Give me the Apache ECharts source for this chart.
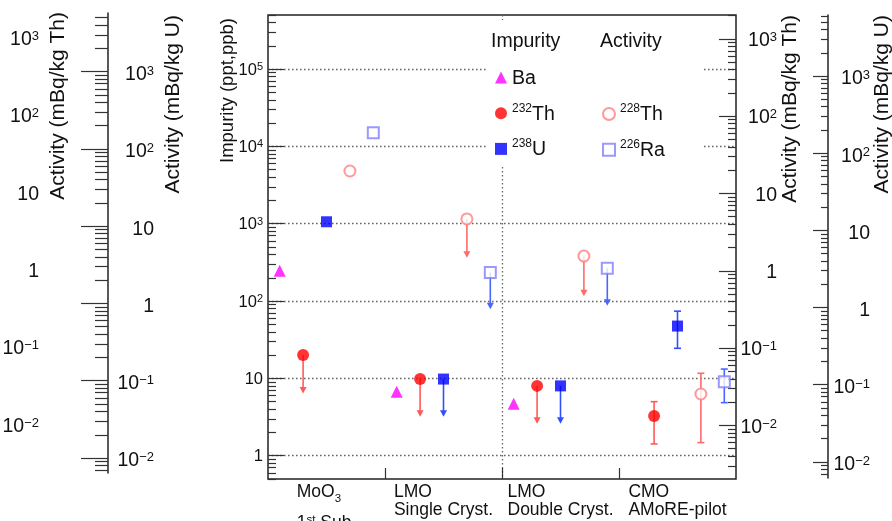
<!DOCTYPE html>
<html>
<head>
<meta charset="utf-8">
<script src="https://cdn.jsdelivr.net/npm/echarts@6/dist/echarts.min.js"></script>
<style>
html, body { margin: 0; padding: 0; background: #fff; }
#chart { width: 892px; height: 521px; }
</style>
</head>
<body>
<div id="chart"></div>
<script>
// ---- data -------------------------------------------------------------
// Sample categories ("_x" = subscript, "^x" = superscript)
const categories = ['MoO_3\n1^st Sub.', 'LMO\nSingle Cryst.', 'LMO\nDouble Cryst.', 'CMO\nAMoRE-pilot'];

// Impurity concentrations (ppt), one entry per category; null = not measured
const baImpurity     = [247, 6.7, 4.7, null];
const th232Impurity  = [20, 9.8, 8.0, 3.26];
const th232Low       = [6.4, 3.2, 2.6, 1.42];   // arrow tip (limit) or lower error
const th232High      = [null, null, null, 5.0]; // upper error (measured values only)
const u238Impurity   = [1060, 9.8, 8.0, 47.5];
const u238Low        = [null, 3.2, 2.6, 24.5];
const u238High       = [null, null, null, 74];

// Activities (mBq/kg)
const th228Activity  = [19.5, 4.68, 1.55, 0.0255];
const th228Low       = [null, 1.47, 0.47, 0.006];
const th228High      = [null, null, null, 0.0473];
const ra226Activity  = [186, 2.88, 3.28, 0.112];
const ra226Low       = [null, 0.967, 1.07, 0.06];
const ra226High      = [null, null, null, 0.163];

// ---- scales -----------------------------------------------------------
const TH_PER_PPT = 4.06e-3;   // mBq/kg per ppt of 232Th
const U_PER_PPT  = 12.35e-3;  // mBq/kg per ppt of 238U
const IMP  = { min: 0.5, max: 5e5 };
const THA  = { min: IMP.min * TH_PER_PPT, max: IMP.max * TH_PER_PPT };
const UA   = { min: IMP.min * U_PER_PPT,  max: IMP.max * U_PER_PPT };
const UA_L = { min: 0.0064, max: 5740 };

// horizontal slot of each species inside a category
const SLOT = { ba: 0.1, th232: 0.3, u238: 0.5, th228: 0.7, ra226: 0.9 };

const FONT = '"Liberation Sans", Arial, Helvetica, sans-serif';
const INK = '#111';

function decades(r) {
  const out = [];
  for (let k = Math.ceil(Math.log10(r.min) - 1e-9); Math.pow(10, k) <= r.max * (1 + 1e-9); k++) out.push(Math.pow(10, k));
  return out;
}
function minors(r) {
  const out = [];
  for (let k = Math.floor(Math.log10(r.min)); k <= Math.ceil(Math.log10(r.max)); k++) {
    for (let m = 2; m <= 9; m++) {
      const v = m * Math.pow(10, k);
      if (v >= r.min && v <= r.max) out.push(v);
    }
  }
  return out;
}
function powLabel(v) {
  const e = Math.round(Math.log10(v));
  if (e === 0) return '{b|1}';
  if (e === 1) return '{b|10}';
  return '{b|10}{s|' + (e < 0 ? '\u2212' + (-e) : e) + '}';
}
function powRich(size) {
  return {
    b: { fontSize: size, fontFamily: FONT, color: INK, lineHeight: Math.round(size * 1.05), verticalAlign: 'bottom' },
    s: { fontSize: Math.round(size * 0.66), fontFamily: FONT, color: INK, lineHeight: Math.round(size * 0.7), verticalAlign: 'top' }
  };
}
function richCategory(label) {
  return label.split('\n').map(line => {
    const hasSub = line.indexOf('_') >= 0;
    const body = line.replace(/_(\w+)|\^(\w+)|([^_^]+)/g, (m, sub, sup, txt) =>
      sub ? '{d|' + sub + '}' : sup ? '{u|' + sup + '}' : '{t|' + txt + '}');
    // a subscript makes its line taller
    return hasSub ? body + '{h| }' : body;
  }).join('\n');
}

const tickStyle = { color: '#333', width: 1.2 };
const lineStyle = { color: '#222', width: 1.5 };

function majorAxis(o) {
  return {
    type: 'log', logBase: 10, min: o.range.min, max: o.range.max,
    gridIndex: o.grid, position: o.position, offset: o.offset || 0,
    axisLine: { show: !!o.line, onZero: false, lineStyle: lineStyle },
    axisTick: o.tick ? { show: true, inside: o.inside, length: o.tick, customValues: decades(o.range), lineStyle: tickStyle } : { show: false },
    axisLabel: o.label ? {
      show: true, customValues: decades(o.range), formatter: powLabel, margin: o.margin,
      align: 'right', rich: powRich(o.label), fontFamily: FONT, color: INK,
      padding: [o.drop || 0, 0, 0, 0]
    } : { show: false },
    splitLine: o.split ? { show: true, lineStyle: { type: [1.6, 2.4], color: '#666', width: 1.3 } } : { show: false },
    minorTick: { show: false }
  };
}
function minorAxis(o) {
  return {
    type: 'log', logBase: 10, min: o.range.min, max: o.range.max,
    gridIndex: o.grid, position: o.position,
    axisLine: { show: false, onZero: false },
    axisTick: { show: true, inside: o.inside, length: o.tick, customValues: minors(o.range), lineStyle: tickStyle },
    axisLabel: { show: false },
    splitLine: { show: false }
  };
}

function points(values, off) {
  return values.map((v, i) => v == null ? null : [i + off, v]).filter(Boolean);
}
function whiskers(values, lows, highs, off) {
  const out = [];
  values.forEach((v, i) => {
    if (v == null || lows[i] == null) return;
    out.push([i + off, v, lows[i], highs[i] == null ? NaN : highs[i]]);
  });
  return out;
}
function whiskerRenderer(color) {
  return function (params, api) {
    const x = api.value(0), v = api.value(1), lo = api.value(2), hi = api.value(3);
    const pv = api.coord([x, v]), pl = api.coord([x, lo]);
    const st = { stroke: color, lineWidth: 1.6, fill: null };
    if (isNaN(hi)) {
      return { type: 'group', children: [
        { type: 'line', shape: { x1: pv[0], y1: pv[1], x2: pl[0], y2: pl[1] - 3 }, style: st },
        { type: 'polygon', shape: { points: [[pl[0] - 3.5, pl[1] - 6.5], [pl[0] + 3.5, pl[1] - 6.5], [pl[0], pl[1]]] }, style: { fill: color } }
      ] };
    }
    const ph = api.coord([x, hi]);
    return { type: 'group', children: [
      { type: 'line', shape: { x1: ph[0], y1: ph[1], x2: pl[0], y2: pl[1] }, style: st },
      { type: 'line', shape: { x1: ph[0] - 3.5, y1: ph[1], x2: ph[0] + 3.5, y2: ph[1] }, style: st },
      { type: 'line', shape: { x1: pl[0] - 3.5, y1: pl[1], x2: pl[0] + 3.5, y2: pl[1] }, style: st }
    ] };
  };
}
function whiskerSeries(name, yIdx, color, data) {
  return {
    name: name, type: 'custom', xAxisIndex: 0, yAxisIndex: yIdx, z: 2, silent: true,
    renderItem: whiskerRenderer(color), data: data, encode: { x: 0, y: 1 }
  };
}
function markerSeries(name, yIdx, symbol, size, color, data, hollow) {
  return {
    name: name, type: 'scatter', xAxisIndex: 0, yAxisIndex: yIdx, z: 4,
    symbol: symbol, symbolSize: size,
    itemStyle: hollow ? { color: color, borderColor: color, borderWidth: 1.5 } : { color: color },
    emphasis: { disabled: true }, data: data
  };
}

const legendRich = {
  n: { fontSize: 19.5, fontFamily: FONT, color: INK, lineHeight: 22, verticalAlign: 'bottom' },
  s: { fontSize: 12, fontFamily: FONT, color: INK, lineHeight: 13, verticalAlign: 'top' }
};
function legendFormatter(name) {
  const m = /^(\d+)(.*)$/.exec(name);
  return m ? '{s|' + m[1] + '}{n|' + m[2] + '}' : '{n|' + name + '}';
}

function vTitle(text, x, y, size) {
  return {
    type: 'text', x: x, y: y, rotation: Math.PI / 2, silent: true, z: 10,
    style: { text: text, fontSize: size, fontFamily: FONT, fill: INK,
             textAlign: 'right', align: 'right', textVerticalAlign: 'middle', verticalAlign: 'middle' }
  };
}
function hText(text, x, y, size) {
  return {
    type: 'text', x: x, y: y, silent: true, z: 10,
    style: { text: text, fontSize: size, fontFamily: FONT, fill: INK,
             textAlign: 'left', align: 'left', textVerticalAlign: 'middle', verticalAlign: 'middle' }
  };
}

const chart = echarts.init(document.getElementById('chart'), null, { renderer: 'canvas' });
chart.setOption({
  animation: false,
  backgroundColor: '#fff',
  textStyle: { fontFamily: FONT },
  grid: [
    { left: 268, top: 15, width: 468, height: 464, show: true, borderColor: '#222', borderWidth: 1.5, backgroundColor: 'transparent', outerBoundsMode: 'none' },
    { left: 98, top: 13, width: 10, height: 460, outerBoundsMode: 'none' },
    { left: 818, top: 15, width: 10, height: 463, outerBoundsMode: 'none' }
  ],
  xAxis: [
    { type: 'value', gridIndex: 0, min: 0, max: 4, interval: 1, position: 'bottom',
      axisLine: { show: false, onZero: false },
      axisTick: { show: true, inside: true, length: 11, customValues: [1, 2, 3], lineStyle: tickStyle },
      axisLabel: { show: false },
      splitLine: { show: true, showMinLine: false, showMaxLine: false, lineStyle: { type: [1.6, 2.4], color: '#666', width: 1.3 } } },
    { type: 'category', gridIndex: 0, data: categories, position: 'bottom', boundaryGap: true,
      axisLine: { show: false, onZero: false }, axisTick: { show: false }, splitLine: { show: false },
      axisLabel: {
        interval: 0, margin: 4, formatter: richCategory, align: 'center', verticalAlign: 'top',
        rich: {
          t: { fontSize: 17.5, fontFamily: FONT, color: INK, lineHeight: 18, align: 'left', verticalAlign: 'top' },
          d: { fontSize: 11.5, fontFamily: FONT, color: INK, lineHeight: 12, align: 'left', verticalAlign: 'middle' },
          u: { fontSize: 11.5, fontFamily: FONT, color: INK, lineHeight: 12, align: 'left', verticalAlign: 'top' },
          h: { fontSize: 1, lineHeight: 31, align: 'left', verticalAlign: 'top' }
        }
      } },
    { type: 'value', gridIndex: 1, show: false, min: 0, max: 1, axisLine: { onZero: false } },
    { type: 'value', gridIndex: 2, show: false, min: 0, max: 1, axisLine: { onZero: false } }
  ],
  yAxis: [
    majorAxis({ grid: 0, range: IMP, position: 'left', tick: 16, inside: true, label: 16.5, margin: 5, split: true, drop: 2 }),
    minorAxis({ grid: 0, range: IMP, position: 'left', tick: 8, inside: true }),
    majorAxis({ grid: 0, range: THA, position: 'right', tick: 17, inside: true, label: 19.5, margin: 41, drop: 4 }),
    minorAxis({ grid: 0, range: THA, position: 'right', tick: 8, inside: true }),
    majorAxis({ grid: 0, range: THA, position: 'left', offset: 229, label: 19.5, margin: 0, drop: 2 }),
    { type: 'log', logBase: 10, gridIndex: 0, position: 'right', show: false, min: UA.min, max: UA.max, axisLine: { onZero: false } },
    majorAxis({ grid: 1, range: UA_L, position: 'right', line: true, tick: 27, inside: true, label: 19.5, margin: 46, drop: 6 }),
    minorAxis({ grid: 1, range: UA_L, position: 'right', tick: 13, inside: true }),
    majorAxis({ grid: 2, range: UA, position: 'right', line: true, tick: 15, inside: true, label: 19.5, margin: 42, drop: 6 }),
    minorAxis({ grid: 2, range: UA, position: 'right', tick: 7, inside: true })
  ],
  legend: [
    { data: ['Ba', '232Th', '238U'], orient: 'vertical', left: 495, top: 68.5, padding: 0,
      itemWidth: 12, itemHeight: 12, itemGap: 13.7, itemTextGap: 12, selectedMode: false,
      formatter: legendFormatter, textStyle: { rich: legendRich } },
    { data: ['228Th', '226Ra'], orient: 'vertical', left: 602, top: 103, padding: 0,
      itemWidth: 12, itemHeight: 12, itemGap: 13.7, itemTextGap: 11, selectedMode: false,
      formatter: legendFormatter, textStyle: { rich: legendRich } }
  ],
  graphic: [
    { type: 'rect', shape: { x: 488, y: 20, width: 214, height: 147 }, style: { fill: '#fff' }, z: 1, silent: true },
    hText('Impurity', 491, 42, 19.5),
    hText('Activity', 600, 42, 19.5),
    vTitle('Activity (mBq/kg Th)', 58, 12, 21),
    vTitle('Activity (mBq/kg U)', 173.5, 15, 21),
    vTitle('Impurity (ppt,ppb)', 228, 18, 18.5),
    vTitle('Activity (mBq/kg Th)', 790, 15, 21),
    vTitle('Activity (mBq/kg U)', 882, 15, 21)
  ],
  series: [
    whiskerSeries('232Th range', 0, '#ff5a5a', whiskers(th232Impurity, th232Low, th232High, SLOT.th232)),
    whiskerSeries('238U range', 0, '#3050ff', whiskers(u238Impurity, u238Low, u238High, SLOT.u238)),
    whiskerSeries('228Th range', 2, '#ff6a6a', whiskers(th228Activity, th228Low, th228High, SLOT.th228)),
    whiskerSeries('226Ra range', 5, '#4a66ff', whiskers(ra226Activity, ra226Low, ra226High, SLOT.ra226)),
    markerSeries('Ba', 0, 'triangle', 12, '#ff00ff', points(baImpurity, SLOT.ba)),
    markerSeries('232Th', 0, 'circle', 12, '#ff0000', points(th232Impurity, SLOT.th232)),
    markerSeries('238U', 0, 'rect', 11, '#0000ff', points(u238Impurity, SLOT.u238)),
    markerSeries('228Th', 2, 'emptyCircle', 11, '#ff8080', points(th228Activity, SLOT.th228), true),
    markerSeries('226Ra', 5, 'emptyRect', 11, '#8080ff', points(ra226Activity, SLOT.ra226), true)
  ]
});
</script>
</body>
</html>
